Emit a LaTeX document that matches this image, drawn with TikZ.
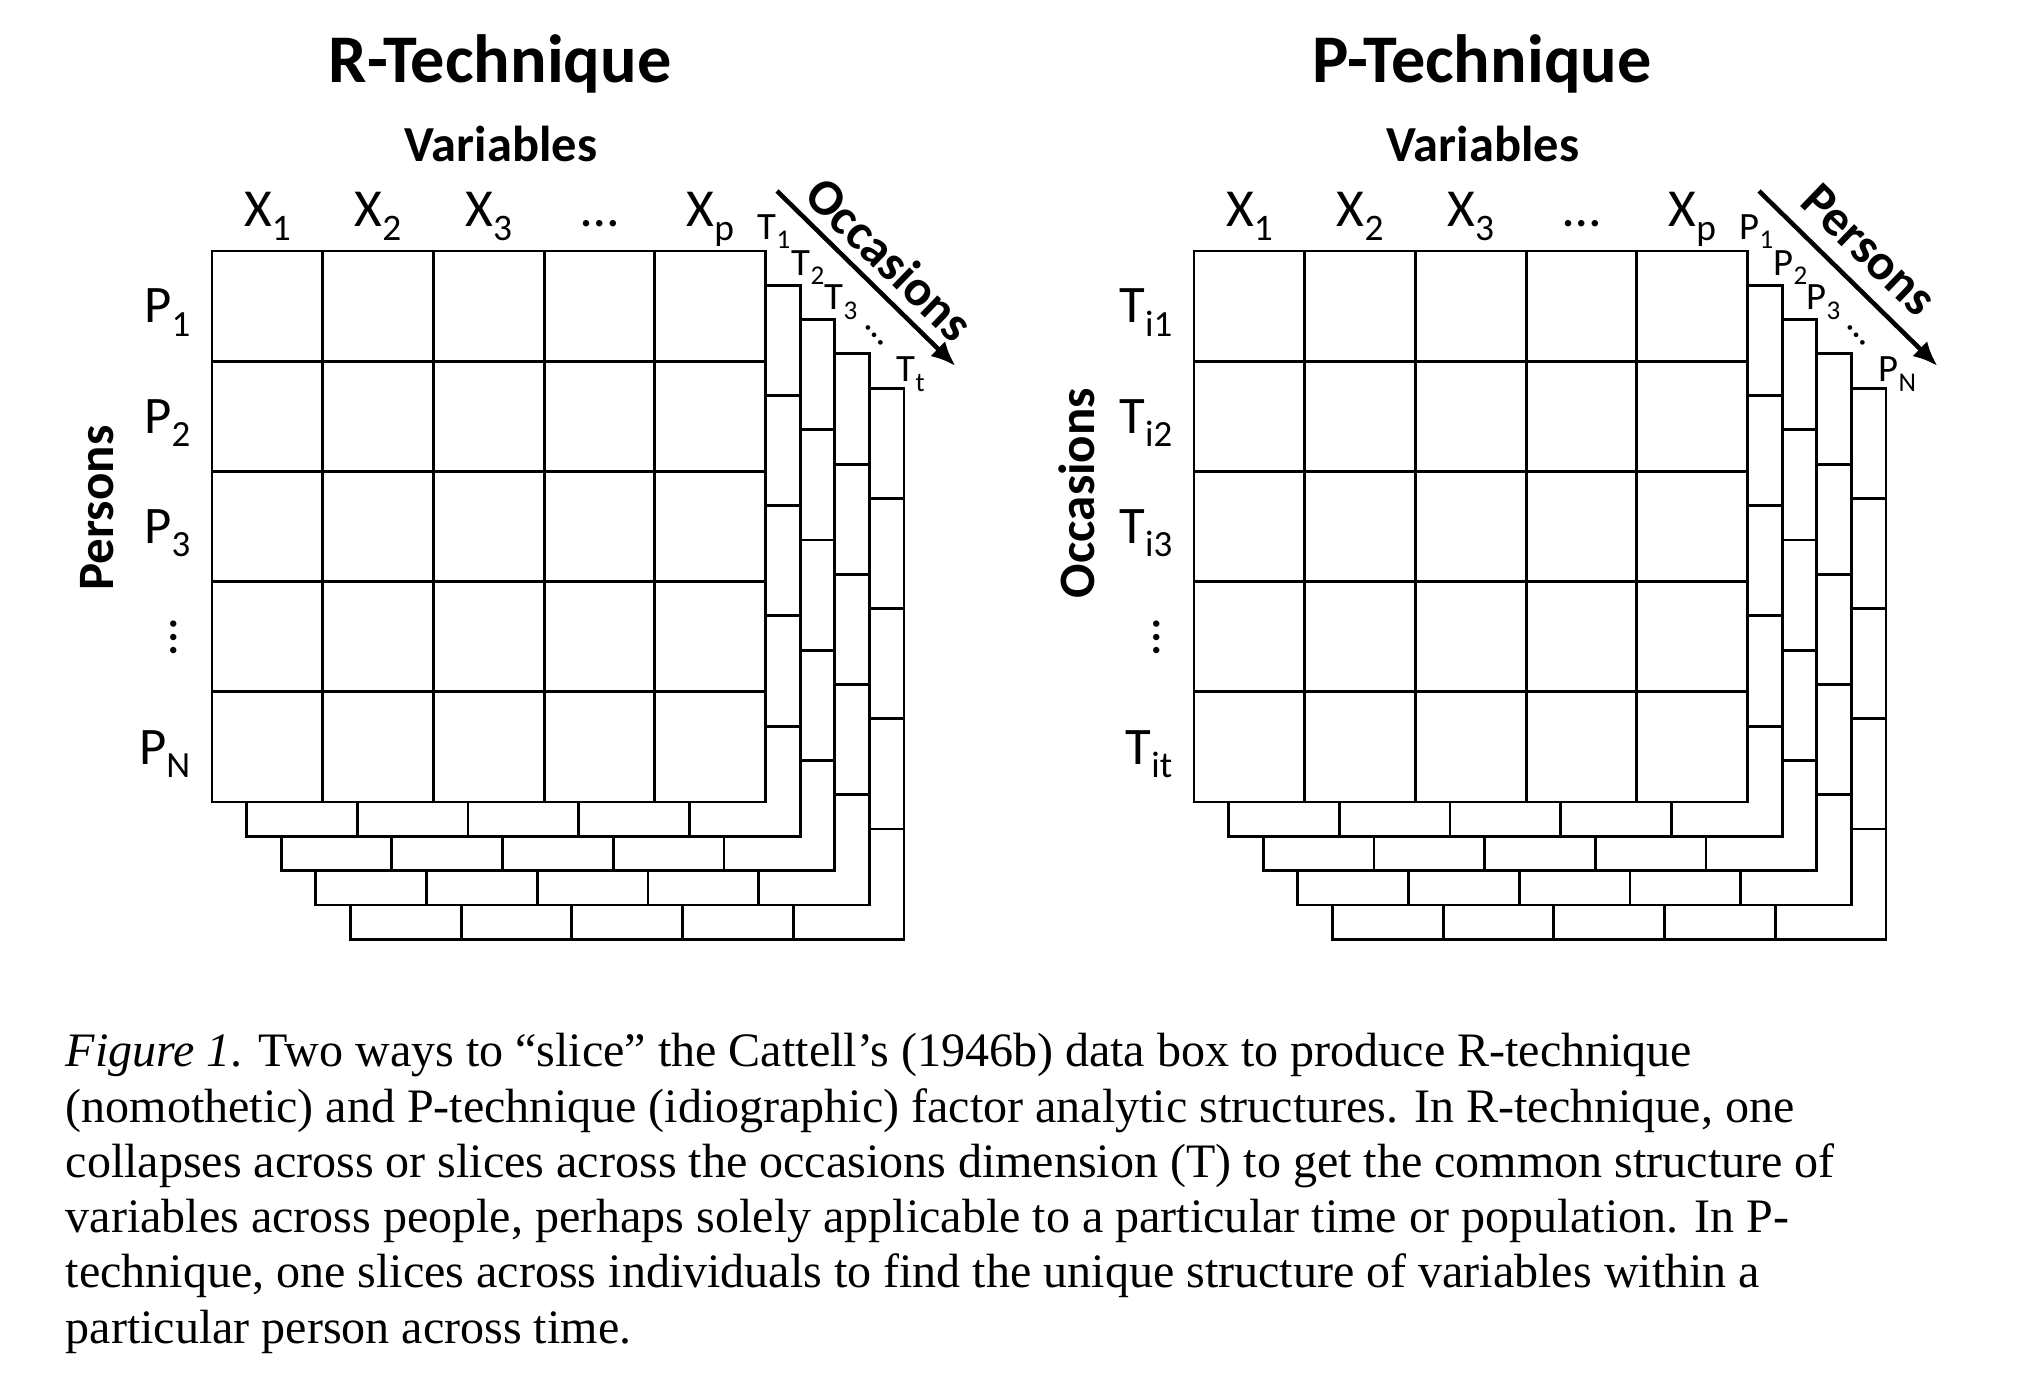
\documentclass[tikz,border=0pt]{standalone}
\usepackage{fontspec}
\setmainfont{Carlito}
\newfontfamily\capfont{Liberation Serif}
\usetikzlibrary{arrows.meta,calc}
\tikzset{
    sliceframe/.style = {draw, line width=0.8pt, fill=white},
    sliceline/.style = {draw, line width=0.8pt},
    ttl/.style = {font=\fontsize{19.4}{23}\selectfont\bfseries, anchor=base},
    vars/.style = {font=\fontsize{14.35}{17}\selectfont\bfseries, anchor=base},
    collab/.style = {font=\fontsize{15.2}{18}\selectfont, anchor=base},
    rowlab/.style = {font=\fontsize{15}{18}\selectfont, anchor=base east, inner sep=0pt},
    slicelab/.style = {font=\fontsize{11}{13}\selectfont, anchor=base west, inner sep=0pt},
    dimname/.style = {font=\fontsize{14.5}{17}\selectfont\bfseries},
    bigarrow/.style = {draw, line width=1.3pt, -{Latex[length=7pt,width=6pt]}},
    captext/.style = {font=\capfont\fontsize{13.66}{15.71}\selectfont, align=left, anchor=base west, inner sep=0pt}
}
\newcommand{\sub}[1]{\raisebox{-0.25em}{\scalebox{0.7}{#1}}}
% five slices of the data box, back to front
\newcommand{\databox}[2]{%
  \foreach \k in {4,3,2,1,0}{
    \begin{scope}[shift={(#1+\k*34.6,#2+\k*34.3)}]
      \draw[sliceframe] (0,0) rectangle (553.5,551);
      \foreach \i in {1,...,4}{
        \draw[sliceline] (\i*110.7,0) -- (\i*110.7,551);
        \draw[sliceline] (0,\i*110.2) -- (553.5,\i*110.2);
      }
    \end{scope}
  }
}
\begin{document}
\begin{tikzpicture}[x=0.01cm, y=-0.01cm]
    \useasboundingbox (0,0) rectangle (2033,1397);
    % R-technique
    \databox{212}{251}
    \node[ttl] (rtitle) at (500,83) {R-Technique};
    \node[vars] (rvars) at (501,161.7) {Variables};
    \node[collab] (rx1) at (267.4,226.7) {X\sub{1}};
    \node[collab] (rx2) at (378.1,226.7) {X\sub{2}};
    \node[collab] (rx3) at (488.8,226.7) {X\sub{3}};
    \node[collab] (rxdots) at (599.5,226.7) {…};
    \node[collab] (rxp) at (710.2,226.7) {X\sub{p}};
    \node[rowlab] (rp1) at (191,323) {P\sub{1}};
    \node[rowlab] (rp2) at (191,433.5) {P\sub{2}};
    \node[rowlab] (rp3) at (191,543.5) {P\sub{3}};
    \node[rowlab, anchor=center, rotate=90] (rpdots) at (174,637) {…};
    \node[rowlab] (rpn) at (191,764) {P\sub{N}};
    \node[dimname, rotate=90] (rpersons) at (97,508) {Persons};
    \node[slicelab] (rt1) at (757,239) {T\sub{1}};
    \node[slicelab] (rt2) at (791,275) {T\sub{2}};
    \node[slicelab] (rt3) at (824,310) {T\sub{3}};
    \node[slicelab, anchor=center, rotate=-50] (rtdots) at (875,335) {…};
    \node[slicelab] (rtt) at (896,381.7) {T\sub{t}};
    \coordinate (rarrA) at (777,191);
    \coordinate (rarrB) at (955.5,366);
    \draw[bigarrow] (rarrA) -- (rarrB);
    \node[dimname, rotate=-44] (roccasions) at (890,259) {Occasions};
    % P-technique
    \databox{1194}{251}
    \node[ttl] (ptitle) at (1482,83) {P-Technique};
    \node[vars] (pvars) at (1483,161.7) {Variables};
    \node[collab] (px1) at (1249.4,226.7) {X\sub{1}};
    \node[collab] (px2) at (1360.1,226.7) {X\sub{2}};
    \node[collab] (px3) at (1470.8,226.7) {X\sub{3}};
    \node[collab] (pxdots) at (1581.5,226.7) {…};
    \node[collab] (pxp) at (1692.2,226.7) {X\sub{p}};
    \node[rowlab] (pt1) at (1173,323) {T\sub{i1}};
    \node[rowlab] (pt2) at (1173,433.5) {T\sub{i2}};
    \node[rowlab] (pt3) at (1173,543.5) {T\sub{i3}};
    \node[rowlab, anchor=center, rotate=90] (ptdots) at (1157,637) {…};
    \node[rowlab] (ptt) at (1173,764) {T\sub{it}};
    \node[dimname, rotate=90] (poccasions) at (1077,493) {Occasions};
    \node[slicelab] (pp1) at (1739,239) {P\sub{1}};
    \node[slicelab] (pp2) at (1773,275) {P\sub{2}};
    \node[slicelab] (pp3) at (1806,310) {P\sub{3}};
    \node[slicelab, anchor=center, rotate=-50] (ppdots) at (1857,335) {…};
    \node[slicelab] (ppn) at (1878,381.7) {P\sub{N}};
    \coordinate (parrA) at (1759,191);
    \coordinate (parrB) at (1937.5,366);
    \draw[bigarrow] (parrA) -- (parrB);
    \node[dimname, rotate=-44] (ppersons) at (1869,250) {Persons};
    % caption
    \node[captext] (caption) at (65,1343) {\textit{Figure 1}. Two ways to “slice” the Cattell’s (1946b) data box to produce R-technique\\
(nomothetic) and P-technique (idiographic) factor analytic structures. In R-technique, one\\
collapses across or slices across the occasions dimension (T) to get the common structure of\\
variables across people, perhaps solely applicable to a particular time or population. In P-\\
technique, one slices across individuals to find the unique structure of variables within a\\
particular person across time.};
\end{tikzpicture}
\end{document}
